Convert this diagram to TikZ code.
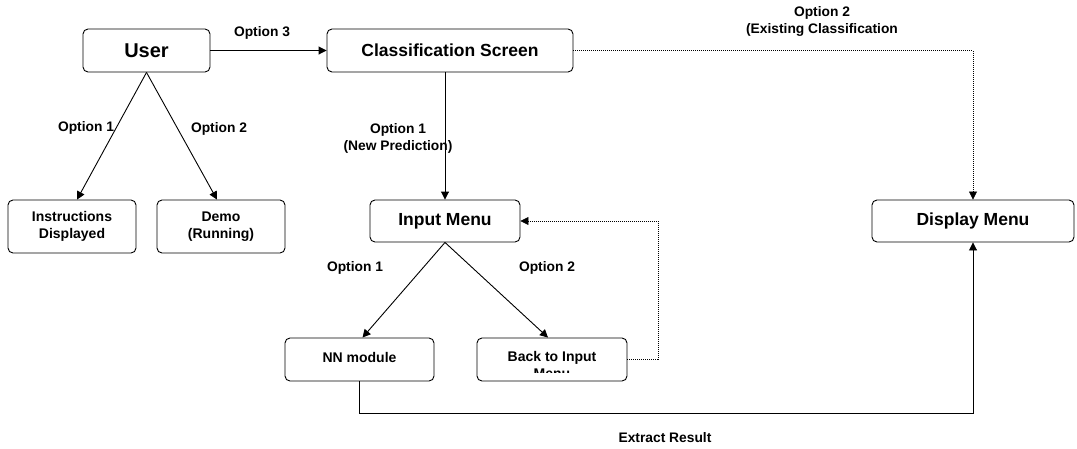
\documentclass[tikz,border=0pt]{standalone}
\usepackage{fontspec}
\setmainfont{Liberation Sans}
\usetikzlibrary{arrows.meta,positioning,calc}
\begin{document}
\begin{tikzpicture}[x=1pt,y=-1pt,
  box/.style={draw,line width=0.9pt,rounded corners=5pt,inner sep=0pt,align=center,font=\bfseries},
  arr/.style={line width=0.9pt,-{Triangle[length=8pt,width=8pt]}},
  dotarr/.style={line width=0.7pt,dash pattern=on 1pt off 1pt,-{Triangle[length=8pt,width=8pt]}},
  lab/.style={font=\bfseries\fontsize{13.8}{17}\selectfont,align=center,inner sep=0pt}]
\useasboundingbox (0,0) rectangle (1077,448);
% nodes
\node[box,minimum width=127pt,minimum height=43pt,font=\bfseries\fontsize{20}{24}\selectfont] (user) at (146.5,50.5) {User};
\node[box,minimum width=246pt,minimum height=43pt,font=\bfseries\fontsize{17.5}{21}\selectfont] (class) at (450,50.5) {Classification Screen};
\node[box,minimum width=128pt,minimum height=53pt,font=\bfseries\fontsize{14}{17.5}\selectfont] (instr) at (72,226.5) {Instructions\\Displayed};
\node[box,minimum width=128pt,minimum height=53pt,font=\bfseries\fontsize{14}{17.5}\selectfont] (demo) at (221,226.5) {Demo\\(Running)};
\node[box,minimum width=150pt,minimum height=42pt,font=\bfseries\fontsize{17.5}{21}\selectfont] (input) at (445,221) {Input Menu};
\node[box,minimum width=202pt,minimum height=42pt,font=\bfseries\fontsize{17.5}{21}\selectfont] (display) at (973,221) {Display Menu};
\node[box,minimum width=149pt,minimum height=43pt,font=\bfseries\fontsize{14}{17.5}\selectfont] (nn) at (359.5,359.5) {\raisebox{4pt}{NN module}};
\node[box,minimum width=150pt,minimum height=43pt] (back) at (552,359.5) {};
\begin{scope}
\clip (back.north west) rectangle ([yshift=9pt]back.south east);
\node[anchor=north,inner sep=0pt,align=center,font=\bfseries\fontsize{14}{17}\selectfont] (backtxt) at ([yshift=-13.5pt]back.north) {Back to Input\\Menu};
\end{scope}
% connectors
\draw[arr] (user) -- (class);
\draw[arr] (user.south) -- ([xshift=5pt]instr.north);
\draw[arr] (user.south) -- ([xshift=-4pt]demo.north);
\draw[arr] (input.north |- class.south) -- (input.north);
\draw[dotarr] (class.east) -| (display.north);
\draw[arr] (input.south) -- ([xshift=3pt]nn.north);
\draw[arr] (input.south) -- ([xshift=-4pt]back.north);
\coordinate (bk) at (658,359.5);
\draw[dotarr] (back.east) -- (bk) |- (input.east);
\coordinate (nb) at (359.5,413);
\draw[arr] (nn.south) -- (nb) -| (display.south);
% labels
\node[lab] (l3) at (262,33) {Option 3};
\node[lab] (l1) at (86,128) {Option 1};
\node[lab] (l2) at (219,129) {Option 2};
\node[lab] (lnew) at (398,138) {Option 1\\(New Prediction)};
\node[lab] (lex) at (822,21) {Option 2\\(Existing Classification};
\node[lab] (li1) at (355,268) {Option 1};
\node[lab] (li2) at (547,268) {Option 2};
\node[lab] (lext) at (665,438) {Extract Result};
\end{tikzpicture}
\end{document}
